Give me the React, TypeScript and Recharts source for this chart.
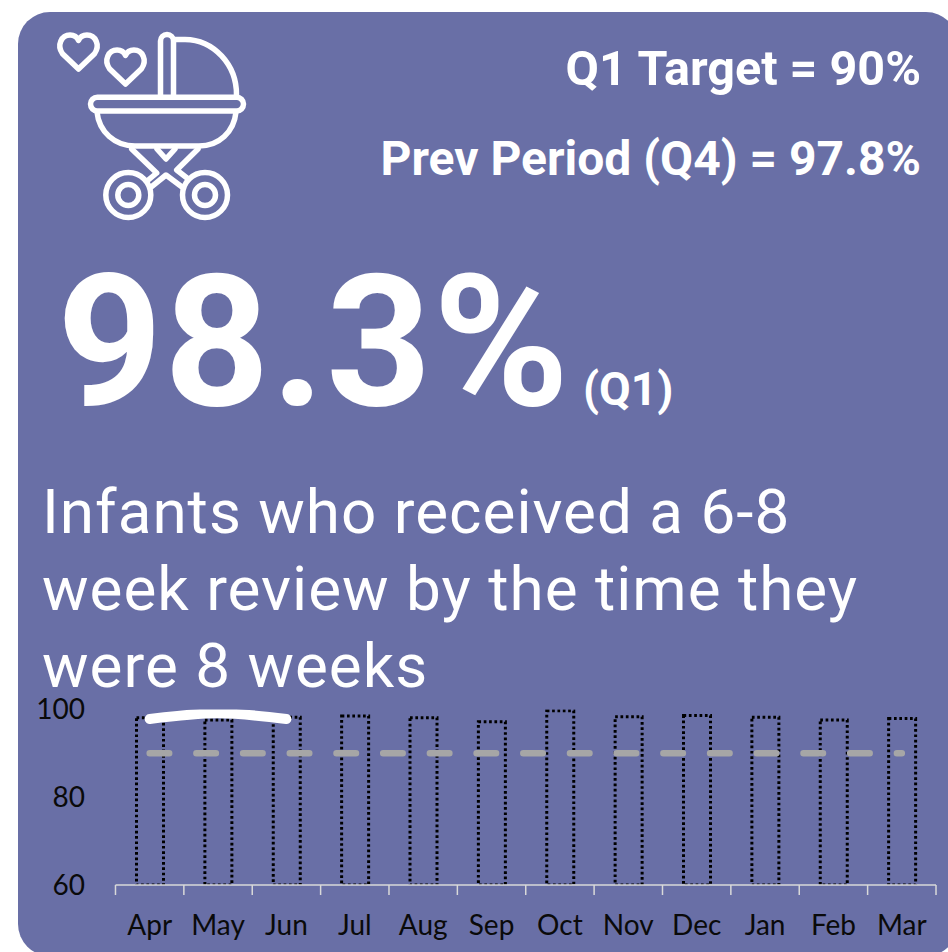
import React from "react";
import { ComposedChart, Bar, Line, XAxis, YAxis } from "recharts";

const months = ["Apr", "May", "Jun", "Jul", "Aug", "Sep", "Oct", "Nov", "Dec", "Jan", "Feb", "Mar"];
const monthly = [98.1, 97.6, 98.2, 98.5, 98.1, 97.2, 99.7, 98.3, 98.6, 98.2, 97.6, 97.9];
const target = [90, 90, 90, 90, 90, 90, 90, 90, 90, 90, 90, 90];
const q1Mark = [97.8, 99.1, 97.8, null, null, null, null, null, null, null, null, null];
const yTicks = [60, 80, 100];

const rows = months.map((month, i) => ({ month, monthly: monthly[i], target: target[i], q1Mark: q1Mark[i] }));

const PANEL = "#696fa6";
const AXIS = "#d9d9d9";
const FONT_UI = "Roboto, sans-serif";
const FONT_CHART = "Lato, Carlito, sans-serif";
const BAND = 68.4;

function MonthTick(props: any) {
  const { x, y, payload, index } = props;
  const left = x - BAND / 2;
  return (
    <g>
      <line x1={left} x2={left} y1={y} y2={y + 10} stroke={AXIS} strokeWidth={1.5} />
      {index === months.length - 1 && (
        <line x1={x + BAND / 2} x2={x + BAND / 2} y1={y} y2={y + 10} stroke={AXIS} strokeWidth={1.5} />
      )}
      <text x={x} y={y + 50} textAnchor="middle" fill="#0a0a0a" fontFamily={FONT_CHART} fontSize={28}>
        {payload.value}
      </text>
    </g>
  );
}

function ValueTick(props: any) {
  const { y, payload } = props;
  return (
    <text x={85} y={y + 10} textAnchor="end" fill="#0a0a0a" fontFamily={FONT_CHART} fontSize={28}>
      {payload.value}
    </text>
  );
}

function StrollerIcon() {
  const heart =
    "M19 34 L3 18.7 C-3 10 2 0 10.6 0 C14.4 0 17.5 2 19 5.4 C20.5 2 23.6 0 27.4 0 C36 0 41 10 35 18.7 Z";
  return (
    <g fill="none" stroke="#ffffff" strokeWidth={5.5} strokeLinecap="round" strokeLinejoin="round">
      <path d={heart} transform="translate(59.5,35)" />
      <path d={heart} transform="translate(106.5,50)" />
      <path d="M160.5 95 V41 a6.5 6.5 0 0 1 13 0 V95" />
      <path d="M174 39.5 H185 A52 55 0 0 1 236.5 95" />
      <rect x={90.5} y={97.2} width={153} height={13.8} rx={6.9} />
      <path d="M97 112 C99 132 115 146 135 146 H199 C219 146 234 132 236 112" />
      <path d="M131.7 149 L156.7 173 L147 181" />
      <path d="M198 149 L176.7 170 L187 178" />
      <path d="M151.7 186.7 L166 175 L181.7 186.7" />
      <path d="M157 149 L166 159 L175 149" />
      <circle cx={128.3} cy={195} r={22.5} />
      <circle cx={128.3} cy={195} r={10.5} />
      <circle cx={205} cy={195} r={22.5} />
      <circle cx={205} cy={195} r={10.5} />
    </g>
  );
}

export default function App() {
  return (
    <div style={{ position: "absolute", left: 0, top: 0, width: 948, height: 952, overflow: "hidden", background: "#ffffff" }}>
      <div
        style={{
          position: "absolute",
          left: 18,
          top: 12,
          width: 940,
          height: 944,
          borderRadius: 32,
          background: PANEL,
        }}
      />
      <svg width={948} height={952} style={{ position: "absolute", left: 0, top: 0 }}>
        <StrollerIcon />
        <g fill="#ffffff" fontFamily={FONT_UI}>
          <text x={921} y={85} textAnchor="end" fontWeight={700} fontSize={48.5}>Q1 Target = 90%</text>
          <text x={921} y={175} textAnchor="end" fontWeight={700} fontSize={48}>Prev Period (Q4) = 97.8%</text>
          <text x={57} y={405} fontWeight={700} fontSize={184} letterSpacing={1.5}>98.3%</text>
          <text x={583} y={405} fontWeight={700} fontSize={46}>(Q1)</text>
          <text x={42} y={533} fontSize={62} letterSpacing={1}>Infants who received a 6-8</text>
          <text x={42} y={610} fontSize={62} letterSpacing={1}>week review by the time they</text>
          <text x={42} y={687} fontSize={62} letterSpacing={1}>were 8 weeks</text>
        </g>
      </svg>
      <div style={{ position: "absolute", left: 0, top: 690 }}>
        <ComposedChart
          width={948}
          height={262}
          data={rows}
          margin={{ top: 19.4, right: 12, bottom: 0, left: 0 }}
          barCategoryGap={0}
        >
          <XAxis
            dataKey="month"
            interval={0}
            axisLine={{ stroke: AXIS, strokeWidth: 1.5 }}
            tickLine={false}
            tickSize={0}
            tickMargin={0}
            tick={<MonthTick />}
            height={67}
          />
          <YAxis
            type="number"
            domain={[60, 100]}
            ticks={yTicks}
            width={115.5}
            allowDataOverflow
            axisLine={false}
            tickLine={false}
            tick={<ValueTick />}
          />
          <Bar
            dataKey="monthly"
            barSize={27}
            fill="none"
            stroke="#000000"
            strokeWidth={3}
            strokeDasharray="2.7 2.65"
            isAnimationActive={false}
          />
          <Line
            dataKey="target"
            stroke="#a6a6a6"
            strokeWidth={6.5}
            strokeLinecap="round"
            strokeDasharray="19.5 27.2"
            dot={false}
            isAnimationActive={false}
          />
          <Line
            dataKey="q1Mark"
            type="natural"
            stroke="#ffffff"
            strokeWidth={10}
            strokeLinecap="round"
            dot={false}
            isAnimationActive={false}
          />
        </ComposedChart>
      </div>
    </div>
  );
}
